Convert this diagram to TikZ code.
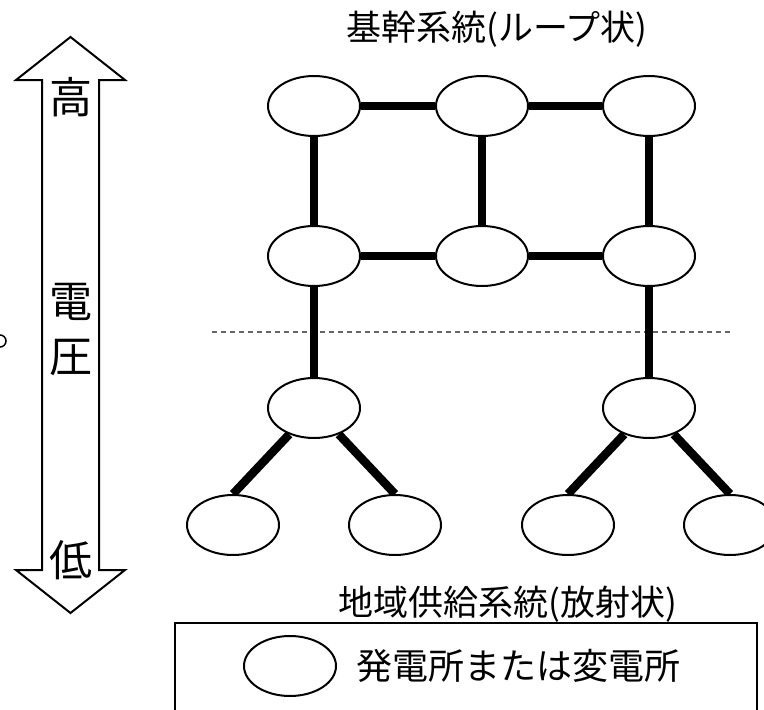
\documentclass[tikz,border=0pt]{standalone}
\usepackage{fontspec}
\setmainfont{Noto Sans CJK JP}
\usetikzlibrary{backgrounds}
\tikzset{
  station/.style={ellipse, draw=black, line width=2pt, fill=white, minimum width=92pt, minimum height=60pt, inner sep=0pt},
  wire/.style={line width=8.5pt, black},
  sep/.style={line width=1.2pt, draw=black!60, dash pattern=on 5pt off 4pt},
  lbl/.style={inner sep=0pt, font=\fontsize{35}{40}\selectfont},
  vlbl/.style={inner sep=0pt, font=\fontsize{43}{48}\selectfont},
  outline/.style={line width=2pt, line join=miter}
}
\usetikzlibrary{shapes.geometric}
\begin{document}
\begin{tikzpicture}[x=1pt, y=-1pt]
\useasboundingbox (0,0) rectangle (764,710);
% voltage arrow
\draw[outline] (70.5,37) -- (125,80) -- (99,80) -- (99,570) -- (125,570) -- (70.5,613)
  -- (16,570) -- (42,570) -- (42,80) -- (16,80) -- cycle;
\node[vlbl] (hi) at (70.5,97) {高};
\node[vlbl] (v1) at (70.5,302) {電};
\node[vlbl] (v2) at (70.5,358) {圧};
\node[vlbl] (lo) at (70.5,560) {低};
% small fragment at left edge
\draw[line width=1.5pt] (0,341) circle[radius=6];
% titles
\node[lbl] (t1) at (497,29) {基幹系統(ループ状)};
\node[lbl] (t2) at (508,604) {地域供給系統(放射状)};
% stations
\node[station] (a1) at (314,106) {};
\node[station] (b1) at (482,106) {};
\node[station] (c1) at (649,106) {};
\node[station] (a2) at (314,256) {};
\node[station] (b2) at (482,256) {};
\node[station] (c2) at (649,256) {};
\node[station] (a3) at (314,408) {};
\node[station] (c3) at (649,408) {};
\node[station] (d1) at (233,525) {};
\node[station] (d2) at (395,525) {};
\node[station] (d3) at (568,525) {};
\node[station] (d4) at (730,525) {};
\coordinate (sl) at (212,332);
\coordinate (sr) at (730,332);
\begin{pgfonlayer}{background}
\draw[sep] (sl) -- (sr);
\draw[wire] (a1) -- (b1) -- (c1);
\draw[wire] (a2) -- (b2) -- (c2);
\draw[wire] (a1) -- (a2) -- (a3);
\draw[wire] (b1) -- (b2);
\draw[wire] (c1) -- (c2) -- (c3);
\draw[wire] (a3) -- (d1.north);
\draw[wire] (a3) -- (d2.north);
\draw[wire] (c3) -- (d3.north);
\draw[wire] (c3) -- (d4.north);
\end{pgfonlayer}
% legend
\draw[line width=2pt] (175,623) rectangle (757,730);
\node[station] (lg) at (290,666) {};
\node[lbl, font=\fontsize{36}{40}\selectfont] (lgt) at (518,666) {発電所または変電所};
\end{tikzpicture}
\end{document}
